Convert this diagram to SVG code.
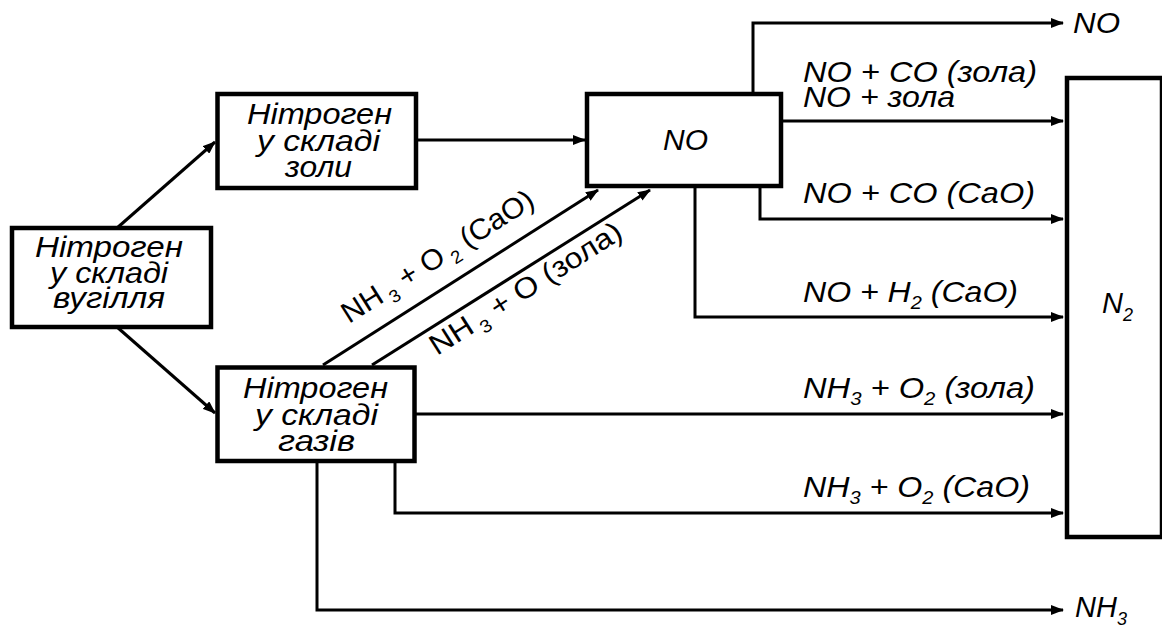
<svg xmlns="http://www.w3.org/2000/svg" width="1162" height="626" viewBox="0 0 1162 626">
<style>
  .box { fill: #fff; stroke: #000; stroke-width: 4.5; }
  .ln { fill: none; stroke: #000; stroke-width: 3; }
  .t { font-family: "Liberation Sans", Arial, sans-serif; font-style: italic; font-size: 29px; fill: #000; }
  .r { font-family: "Liberation Sans", Arial, sans-serif; font-style: normal; font-size: 29px; fill: #000; }
  .sub { font-size: 18px; }
</style>
<defs>
  <marker id="arr" markerUnits="userSpaceOnUse" markerWidth="13" markerHeight="10" refX="12" refY="5" orient="auto">
    <path d="M0,0 L13,5 L0,10 z" fill="#000"/>
  </marker>
</defs>
<rect width="1162" height="626" fill="#fff"/>

<g id="connectors">
  <line class="ln" x1="117" y1="228" x2="215" y2="142" marker-end="url(#arr)"/>
  <line class="ln" x1="117" y1="327" x2="215" y2="413" marker-end="url(#arr)"/>
  <line class="ln" x1="416" y1="140" x2="585" y2="140" marker-end="url(#arr)"/>
  <line class="ln" x1="323" y1="365" x2="598" y2="190" marker-end="url(#arr)"/>
  <line class="ln" x1="372" y1="365" x2="650" y2="190" marker-end="url(#arr)"/>
  <polyline class="ln" points="753,92 753,23 1063,23" marker-end="url(#arr)"/>
  <line class="ln" x1="781" y1="121" x2="1063" y2="121" marker-end="url(#arr)"/>
  <polyline class="ln" points="760,188 760,219 1063,219" marker-end="url(#arr)"/>
  <polyline class="ln" points="695,188 695,317 1063,317" marker-end="url(#arr)"/>
  <line class="ln" x1="416" y1="414" x2="1063" y2="414" marker-end="url(#arr)"/>
  <polyline class="ln" points="395,461 395,513 1063,513" marker-end="url(#arr)"/>
  <polyline class="ln" points="317,461 317,610 1063,610" marker-end="url(#arr)"/>
</g>

<g id="labels">
  <text class="r" transform="translate(349,324) rotate(-32.4)" textLength="222" lengthAdjust="spacingAndGlyphs">NH<tspan class="sub" dy="7"> 3</tspan><tspan dy="-7"> + O</tspan><tspan class="sub" dy="7"> 2</tspan><tspan dy="-7"> (CaO)</tspan></text>
  <text class="r" transform="translate(437,356) rotate(-32.4)" textLength="222" lengthAdjust="spacingAndGlyphs">NH<tspan class="sub" dy="7"> 3</tspan><tspan dy="-7"> + O (зола)</tspan></text>
  <text class="t" x="1073" y="33" textLength="47" lengthAdjust="spacingAndGlyphs">NO</text>
  <text class="t" x="803" y="82" textLength="234" lengthAdjust="spacingAndGlyphs">NO + CO (зола)</text>
  <text class="t" x="803" y="107" textLength="152" lengthAdjust="spacingAndGlyphs">NO + зола</text>
  <text class="t" x="803" y="203" textLength="232" lengthAdjust="spacingAndGlyphs">NO + CO (CaO)</text>
  <text class="t" x="803" y="302" textLength="215" lengthAdjust="spacingAndGlyphs">NO + H<tspan class="sub" dy="7">2</tspan><tspan dy="-7"> (CaO)</tspan></text>
  <text class="t" x="803" y="398" textLength="232" lengthAdjust="spacingAndGlyphs">NH<tspan class="sub" dy="7">3</tspan><tspan dy="-7"> + O</tspan><tspan class="sub" dy="7">2</tspan><tspan dy="-7"> (зола)</tspan></text>
  <text class="t" x="803" y="497" textLength="227" lengthAdjust="spacingAndGlyphs">NH<tspan class="sub" dy="7">3</tspan><tspan dy="-7"> + O</tspan><tspan class="sub" dy="7">2</tspan><tspan dy="-7"> (CaO)</tspan></text>
  <text class="t" x="1075" y="617">NH<tspan class="sub" dy="8">3</tspan></text>
</g>

<g id="node-coal">
  <rect class="box" x="12" y="228" width="199" height="99"/>
  <text class="t" x="35" y="257" textLength="148" lengthAdjust="spacingAndGlyphs">Нітроген</text>
  <text class="t" x="50" y="283" textLength="118" lengthAdjust="spacingAndGlyphs">у складі</text>
  <text class="t" x="53" y="308" textLength="112" lengthAdjust="spacingAndGlyphs">вугілля</text>
</g>

<g id="node-ash">
  <rect class="box" x="217.5" y="94" width="198.5" height="94"/>
  <text class="t" x="247" y="124" textLength="145" lengthAdjust="spacingAndGlyphs">Нітроген</text>
  <text class="t" x="257" y="151" textLength="123" lengthAdjust="spacingAndGlyphs">у складі</text>
  <text class="t" x="285" y="177" textLength="67" lengthAdjust="spacingAndGlyphs">золи</text>
</g>

<g id="node-gas">
  <rect class="box" x="217.5" y="367.5" width="197" height="93.5"/>
  <text class="t" x="243" y="398" textLength="145" lengthAdjust="spacingAndGlyphs">Нітроген</text>
  <text class="t" x="255" y="425" textLength="123" lengthAdjust="spacingAndGlyphs">у складі</text>
  <text class="t" x="278" y="451" textLength="77" lengthAdjust="spacingAndGlyphs">газів</text>
</g>

<g id="node-no">
  <rect class="box" x="587" y="94" width="194" height="92"/>
  <text class="t" x="663" y="150" textLength="45" lengthAdjust="spacingAndGlyphs">NO</text>
</g>

<g id="node-n2">
  <rect class="box" x="1067" y="78" width="95" height="459"/>
  <text class="t" x="1102" y="313">N<tspan class="sub" dy="8">2</tspan></text>
</g>
</svg>
